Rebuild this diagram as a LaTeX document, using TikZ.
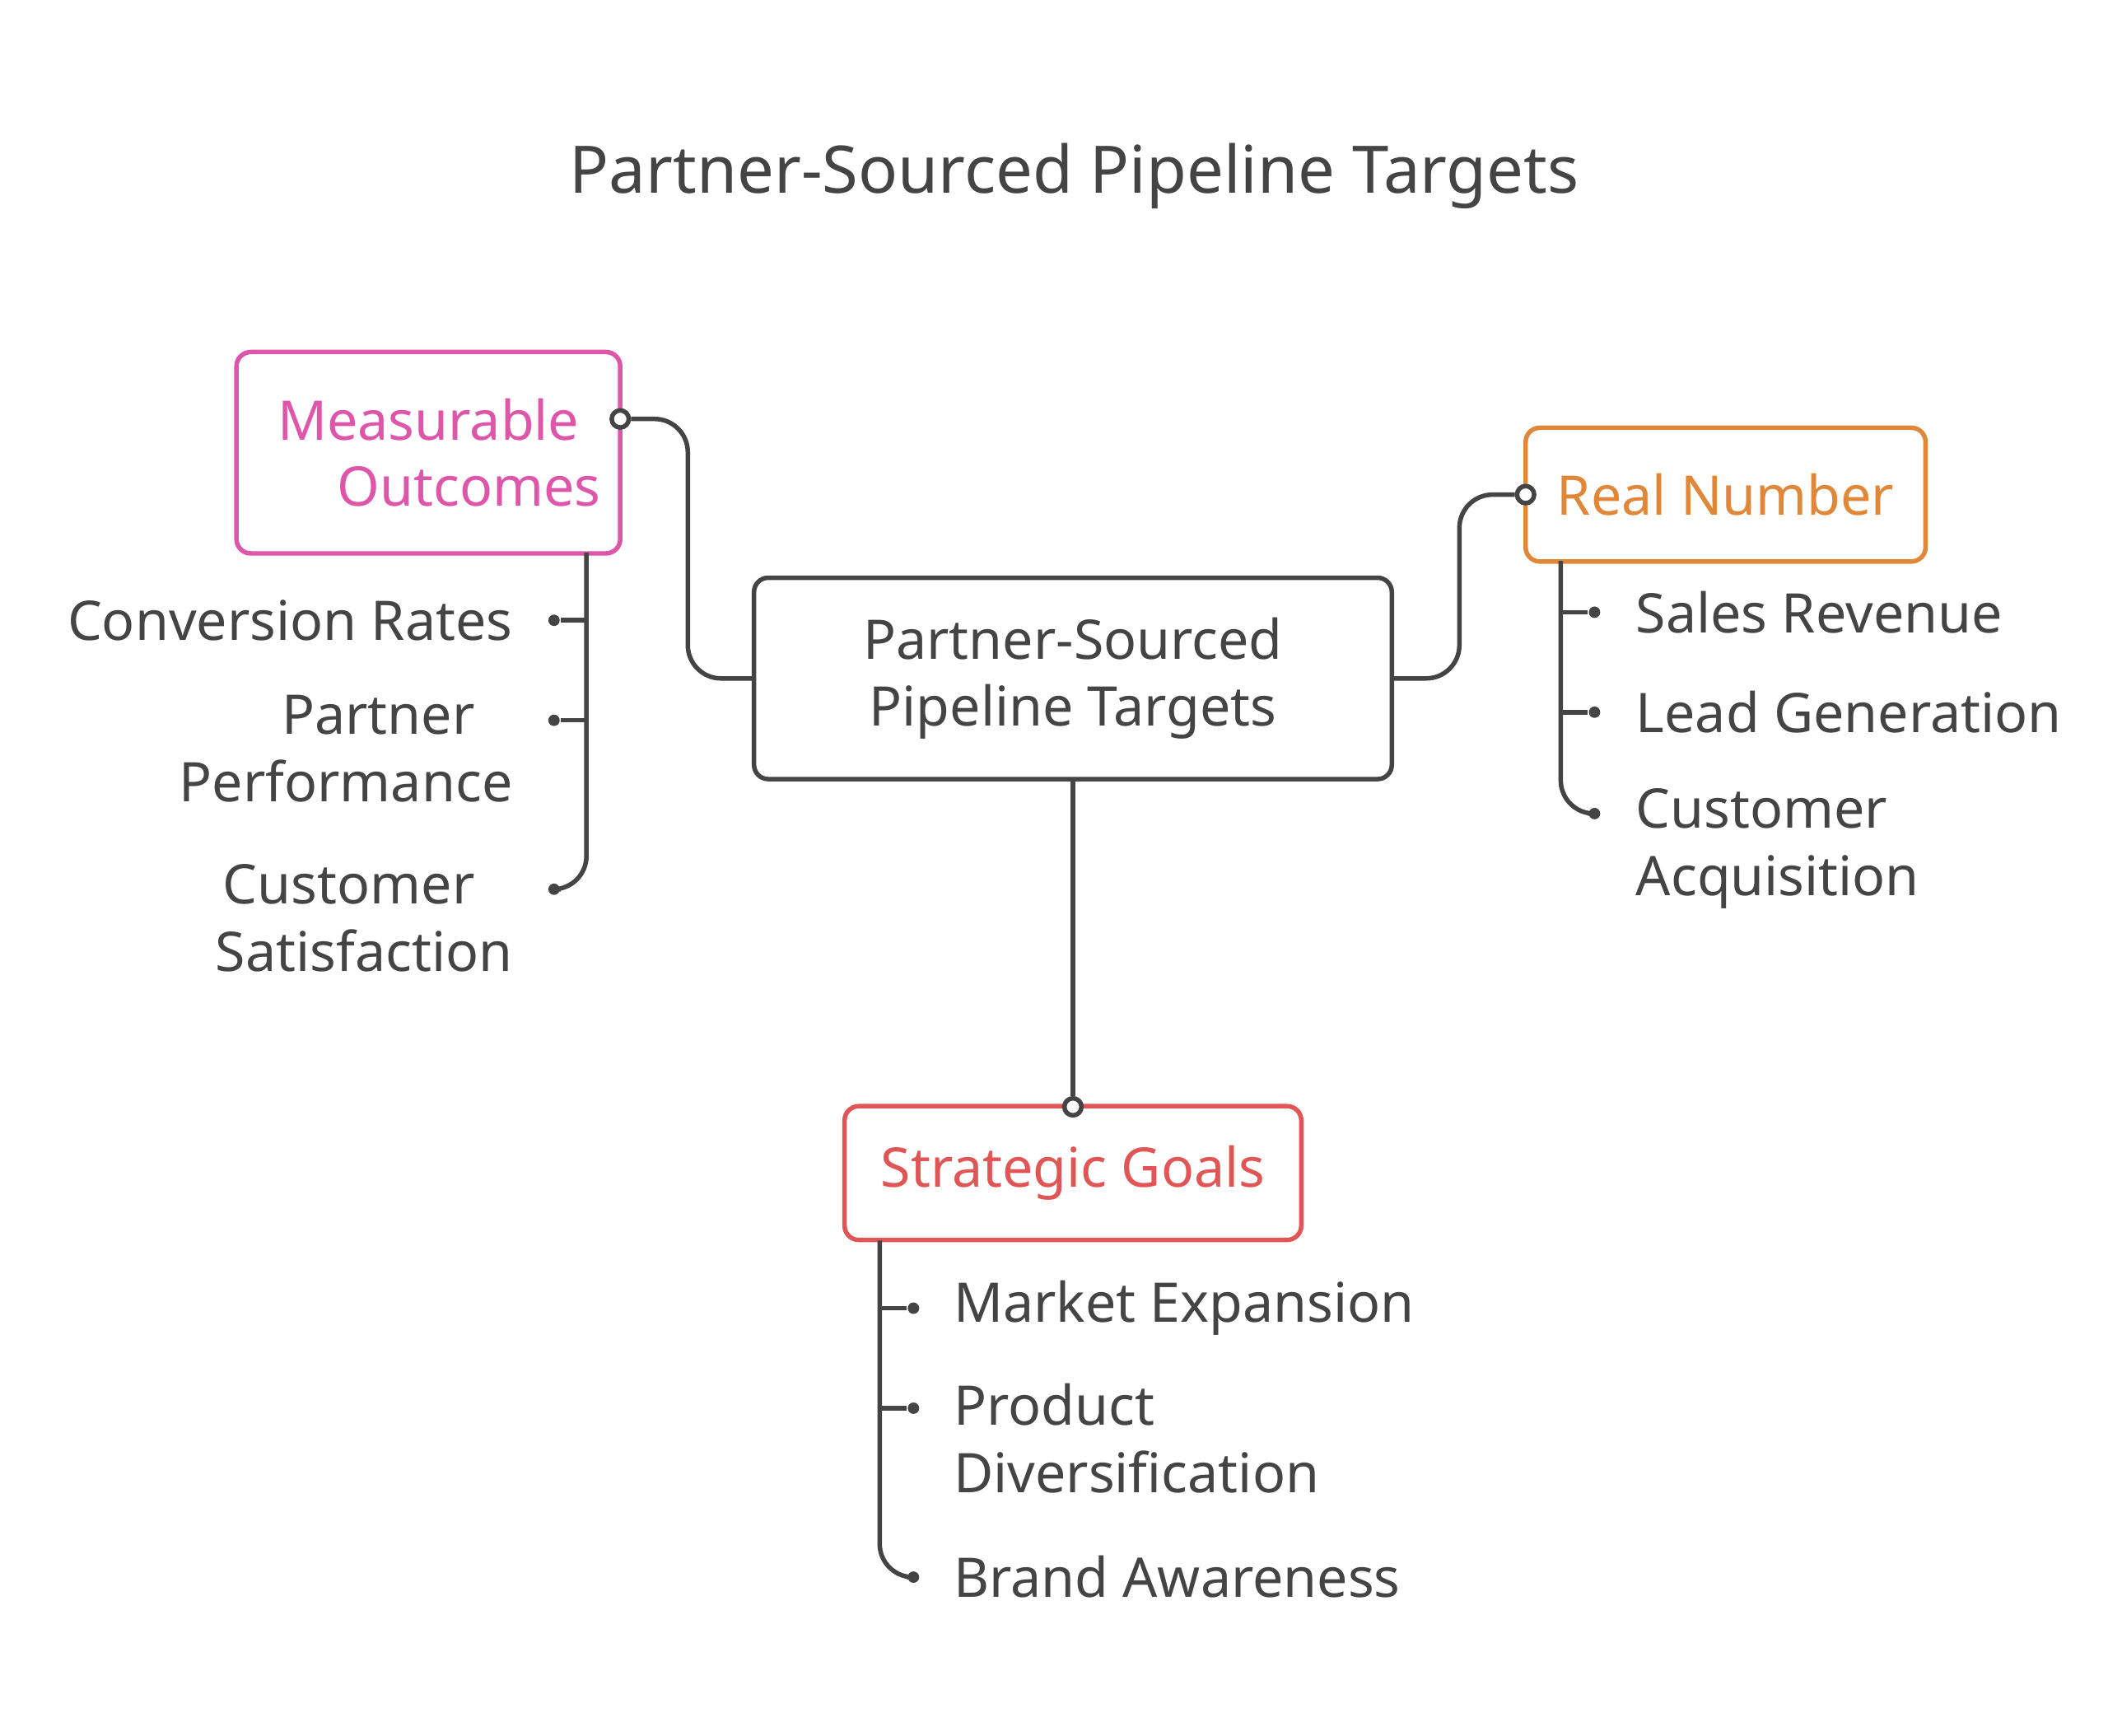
\documentclass[tikz,border=0pt]{standalone}
\usepackage{fontspec}
\setmainfont{Noto Sans}
\usetikzlibrary{positioning}
\definecolor{ink}{HTML}{444444}
\definecolor{pinkc}{HTML}{DE56AA}
\definecolor{orangec}{HTML}{E0883A}
\definecolor{redc}{HTML}{E05656}
\tikzset{
  box/.style={draw=#1,line width=0.95pt,rounded corners=3pt,text=#1,font=\fontsize{11.5}{14}\selectfont,align=center,inner sep=0pt},
  item/.style={text=ink,font=\fontsize{11.5}{14.2}\selectfont,inner sep=0pt},
  link/.style={draw=ink,line width=0.95pt,rounded corners=7pt},
  dot/.style={circle,fill=ink,inner sep=0pt,minimum size=2.4pt},
  port/.style={circle,draw=ink,fill=white,line width=0.95pt,inner sep=0pt,minimum size=3.6pt}
}
\begin{document}
\begin{tikzpicture}[x=0.1mm,y=-0.1mm]
\useasboundingbox (0,0) rectangle (1560,1284);
\node[text=ink,font=\bfseries\fontsize{13.8}{16}\selectfont] (title) at (795,130) {Partner-Sourced Pipeline Targets};
% boxes
\node[box=ink,minimum width=47.2mm,minimum height=14.9mm] (hub) at (794,502) {Partner-Sourced\\Pipeline Targets};
\node[box=pinkc,minimum width=28.4mm,minimum height=14.9mm] (meas) at (317,335) {Measurable\\\hspace*{6mm}Outcomes};
\node[box=orangec,minimum width=29.6mm,minimum height=9.9mm] (real) at (1277,366) {Real Number};
\node[box=redc,minimum width=33.8mm,minimum height=9.9mm] (strat) at (794,868) {Strategic Goals};
% ports
\node[port] (pm) at (459,310) {};
\node[port] (pr) at (1129,366) {};
\node[port] (ps) at (794,819) {};
\draw[link] (hub.west) -| (509,310) -- (pm);
\draw[link] (hub.east) -| (1080,366) -- (pr);
\draw[link] (hub.south) -- (ps);
% measurable branch
\node[dot] (m1) at (410,459) {};
\node[dot] (m2) at (410,533) {};
\node[dot] (m3) at (410,658) {};
\draw[link] (434,409) |- (m3);
\draw[link] (434,459) -- (m1);
\draw[link] (434,533) -- (m2);
\node[item,anchor=east] (t1) at (380,459) {Conversion Rates};
\node[item,anchor=north east,align=right] (t2) at (380,514) {Partner\hspace*{2.8mm}\\Performance};
\node[item,anchor=north east,align=right] (t3) at (380,639) {Customer\hspace*{2.8mm}\\Satisfaction};
% real branch
\node[dot] (r1) at (1180,453) {};
\node[dot] (r2) at (1180,527) {};
\node[dot] (r3) at (1180,602) {};
\draw[link] (1155,415) |- (r3);
\draw[link] (1155,453) -- (r1);
\draw[link] (1155,527) -- (r2);
\node[item,anchor=west] (u1) at (1210,453) {Sales Revenue};
\node[item,anchor=west] (u2) at (1210,527) {Lead Generation};
\node[item,anchor=north west,align=left] (u3) at (1210,583) {Customer\\Acquisition};
% strategic branch
\node[dot] (s1) at (676,968) {};
\node[dot] (s2) at (676,1042) {};
\node[dot] (s3) at (676,1167) {};
\draw[link] (651,918) |- (s3);
\draw[link] (651,968) -- (s1);
\draw[link] (651,1042) -- (s2);
\node[item,anchor=west] (v1) at (705,968) {Market Expansion};
\node[item,anchor=north west,align=left] (v2) at (705,1023) {Product\\Diversification};
\node[item,anchor=west] (v3) at (705,1167) {Brand Awareness};
\end{tikzpicture}
\end{document}
